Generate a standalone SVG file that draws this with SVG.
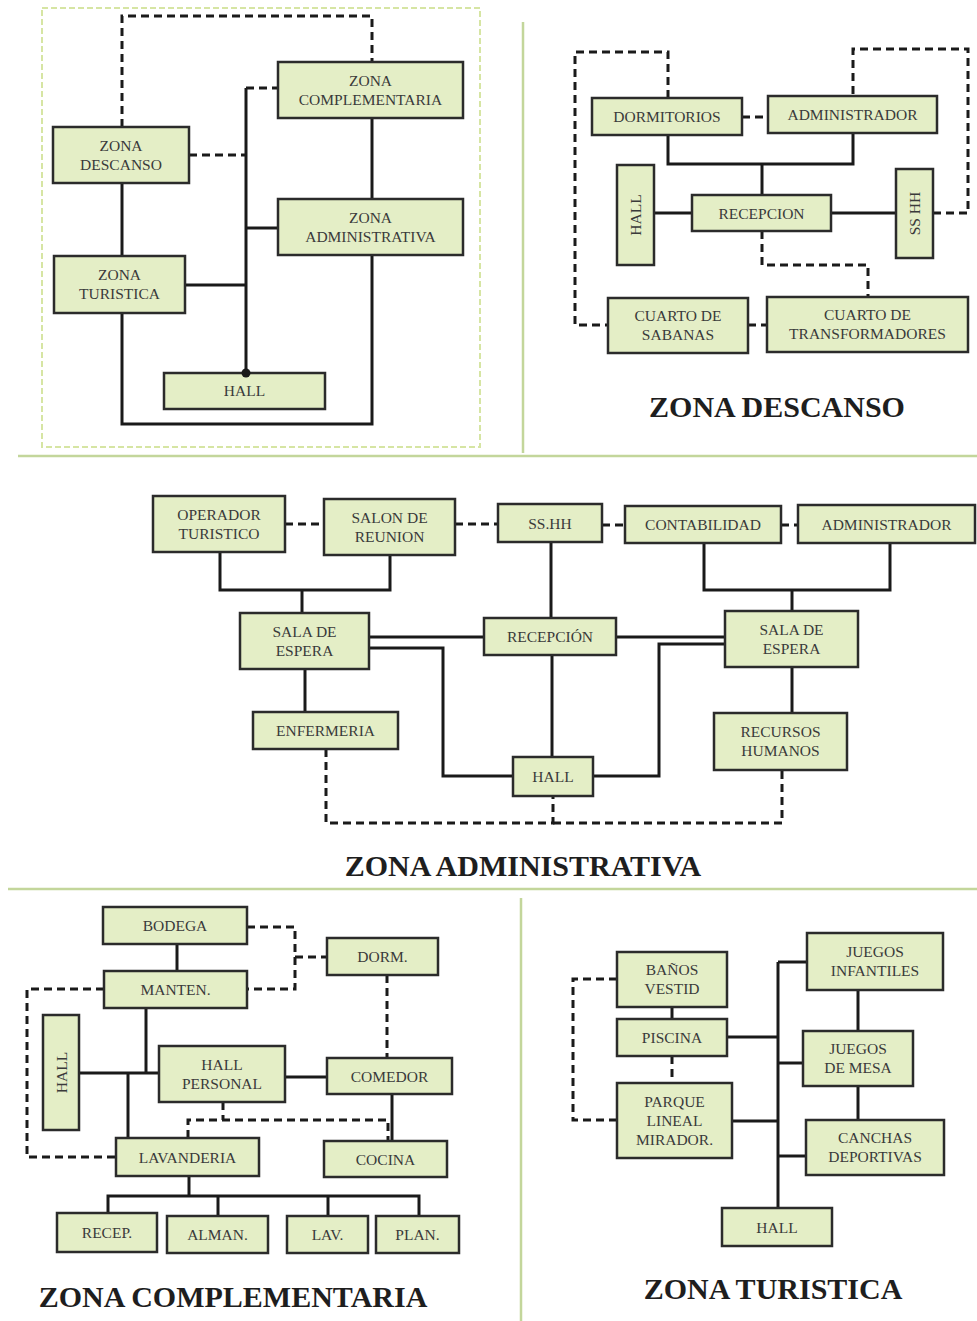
<svg xmlns="http://www.w3.org/2000/svg" width="977" height="1321" viewBox="0 0 977 1321">
<style>
.bx{fill:#e4eec6;stroke:#2b2b2b;stroke-width:2.5}
.t{font-family:"Liberation Serif","Times New Roman",serif;font-size:15.5px;fill:#3a3a3a;text-anchor:middle}
.ttl{font-family:"Liberation Serif","Times New Roman",serif;font-size:30px;font-weight:bold;fill:#1e1e1e;text-anchor:middle}
.s{fill:none;stroke:#1a1a1a;stroke-width:3}
.d{fill:none;stroke:#1a1a1a;stroke-width:3;stroke-dasharray:8 5}
.sep{fill:none;stroke:#c3d69b;stroke-width:2.5}
</style>
<rect width="977" height="1321" fill="#ffffff"/>
<g id="separators">
<rect x="42" y="8" width="438" height="439" fill="none" stroke="#d6e5a3" stroke-width="2" stroke-dasharray="6 3"/>
<line class="sep" x1="523" y1="22" x2="523" y2="453"/>
<line class="sep" x1="18" y1="456" x2="977" y2="456"/>
<line class="sep" x1="8" y1="889" x2="977" y2="889"/>
<line class="sep" x1="521" y1="898" x2="521" y2="1321"/>
</g>
<g id="connectors">
<path class="d" d="M122,127 V16 H372 V62"/>
<path class="d" d="M246,88 H278"/>
<path class="s" d="M246,88 V373"/>
<path class="d" d="M189,155 H246"/>
<path class="s" d="M246,228 H278"/>
<path class="s" d="M185,285 H246"/>
<path class="s" d="M122,183 V256"/>
<path class="s" d="M372,118 V199"/>
<path class="s" d="M122,313 V424 H372 V255"/>
<path class="d" d="M742,117 H768"/>
<path class="s" d="M668,135 V164 H853 V133"/>
<path class="s" d="M762,164 V195"/>
<path class="s" d="M654,213 H692"/>
<path class="s" d="M831,213 H896"/>
<path class="d" d="M762,231 V265 H868 V297"/>
<path class="d" d="M933,213 H968 V49 H853 V96"/>
<path class="d" d="M668,98 V52 H575 V325 H608"/>
<path class="d" d="M748,325 H767"/>
<path class="d" d="M285,524 H324"/>
<path class="d" d="M455,524 H498"/>
<path class="d" d="M602,525 H625"/>
<path class="d" d="M781,525 H798"/>
<path class="s" d="M220,552 V590 H390 V555"/>
<path class="s" d="M302,590 V613"/>
<path class="s" d="M704,543 V590 H890 V543"/>
<path class="s" d="M792,590 V611"/>
<path class="s" d="M551,542 V618"/>
<path class="s" d="M369,637 H484"/>
<path class="s" d="M616,637 H725"/>
<path class="s" d="M369,648 H443 V776 H513"/>
<path class="s" d="M725,644 H659 V776 H593"/>
<path class="s" d="M552,655 V757"/>
<path class="s" d="M305,669 V712"/>
<path class="s" d="M792,667 V713"/>
<path class="d" d="M326,749 V823 H553 V796"/>
<path class="d" d="M553,823 H782 V770"/>
<path class="s" d="M177,944 V971"/>
<path class="d" d="M247,927 H295 V989 H247"/>
<path class="d" d="M295,957 H327"/>
<path class="d" d="M387,975 V1058"/>
<path class="d" d="M104,989 H27 V1157 H116"/>
<path class="s" d="M146,1008 V1073"/>
<path class="s" d="M79,1073 H159"/>
<path class="s" d="M128,1073 V1138"/>
<path class="s" d="M285,1077 H327"/>
<path class="s" d="M392,1094 V1141"/>
<path class="d" d="M223,1102 V1120"/>
<path class="d" d="M188,1138 V1120 H388 V1141"/>
<path class="s" d="M189,1176 V1196"/>
<path class="s" d="M108,1213 V1196 H419 V1216"/>
<path class="s" d="M218,1196 V1216"/>
<path class="s" d="M328,1196 V1216"/>
<path class="s" d="M778,962 V1208"/>
<path class="s" d="M778,962 H807"/>
<path class="s" d="M727,1037 H778"/>
<path class="s" d="M778,1063 H803"/>
<path class="s" d="M732,1121 H778"/>
<path class="s" d="M778,1156 H806"/>
<path class="s" d="M858,990 V1031"/>
<path class="s" d="M858,1086 V1120"/>
<path class="s" d="M672,1007 V1019"/>
<path class="d" d="M672,1056 V1083"/>
<path class="d" d="M617,979 H573 V1120 H617"/>
</g>
<g id="g-zc"><rect class="bx" x="278" y="62" width="185" height="56"/><text class="t" x="370.5" y="85.5">ZONA</text><text class="t" x="370.5" y="104.5">COMPLEMENTARIA</text></g>
<g id="g-zd"><rect class="bx" x="53" y="127" width="136" height="56"/><text class="t" x="121" y="150.5">ZONA</text><text class="t" x="121" y="169.5">DESCANSO</text></g>
<g id="g-za"><rect class="bx" x="278" y="199" width="185" height="56"/><text class="t" x="370.5" y="222.5">ZONA</text><text class="t" x="370.5" y="241.5">ADMINISTRATIVA</text></g>
<g id="g-zt"><rect class="bx" x="54" y="256" width="131" height="57"/><text class="t" x="119.5" y="280">ZONA</text><text class="t" x="119.5" y="299">TURISTICA</text></g>
<g id="g-hall"><rect class="bx" x="164" y="373" width="161" height="36"/><text class="t" x="244.5" y="396">HALL</text><circle cx="246" cy="373" r="4.5" fill="#1a1a1a"/></g>
<g id="d-dorm"><rect class="bx" x="592" y="98" width="150" height="37"/><text class="t" x="667" y="122">DORMITORIOS</text></g>
<g id="d-admin"><rect class="bx" x="768" y="96" width="169" height="37"/><text class="t" x="852.5" y="120">ADMINISTRADOR</text></g>
<g id="d-hall"><rect class="bx" x="617" y="165" width="37" height="100"/><text class="t" transform="translate(635.5,215) rotate(-90)" x="0" y="5.5">HALL</text></g>
<g id="d-recep"><rect class="bx" x="692" y="195" width="139" height="36"/><text class="t" x="761.5" y="218.5">RECEPCION</text></g>
<g id="d-sshh"><rect class="bx" x="896" y="169" width="37" height="89"/><text class="t" transform="translate(914.5,213.5) rotate(-90)" x="0" y="5.5">SS HH</text></g>
<g id="d-sab"><rect class="bx" x="608" y="298" width="140" height="55"/><text class="t" x="678" y="321">CUARTO DE</text><text class="t" x="678" y="340">SABANAS</text></g>
<g id="d-trans"><rect class="bx" x="767" y="297" width="201" height="55"/><text class="t" x="867.5" y="320">CUARTO DE</text><text class="t" x="867.5" y="339">TRANSFORMADORES</text></g>
<text class="ttl" x="777" y="417">ZONA DESCANSO</text>
<g id="a-op"><rect class="bx" x="153" y="496" width="132" height="56"/><text class="t" x="219" y="519.5">OPERADOR</text><text class="t" x="219" y="538.5">TURISTICO</text></g>
<g id="a-salon"><rect class="bx" x="324" y="499" width="131" height="56"/><text class="t" x="389.5" y="522.5">SALON DE</text><text class="t" x="389.5" y="541.5">REUNION</text></g>
<g id="a-sshh"><rect class="bx" x="498" y="504" width="104" height="38"/><text class="t" x="550" y="528.5">SS.HH</text></g>
<g id="a-contab"><rect class="bx" x="625" y="506" width="156" height="37"/><text class="t" x="703" y="530">CONTABILIDAD</text></g>
<g id="a-admin"><rect class="bx" x="798" y="505" width="177" height="38"/><text class="t" x="886.5" y="529.5">ADMINISTRADOR</text></g>
<g id="a-salaL"><rect class="bx" x="240" y="613" width="129" height="56"/><text class="t" x="304.5" y="636.5">SALA DE</text><text class="t" x="304.5" y="655.5">ESPERA</text></g>
<g id="a-recep"><rect class="bx" x="484" y="618" width="132" height="37"/><text class="t" x="550" y="642">RECEPCIÓN</text></g>
<g id="a-salaR"><rect class="bx" x="725" y="611" width="133" height="56"/><text class="t" x="791.5" y="634.5">SALA DE</text><text class="t" x="791.5" y="653.5">ESPERA</text></g>
<g id="a-enf"><rect class="bx" x="253" y="712" width="145" height="37"/><text class="t" x="325.5" y="736">ENFERMERIA</text></g>
<g id="a-hall"><rect class="bx" x="513" y="757" width="80" height="39"/><text class="t" x="553" y="782">HALL</text></g>
<g id="a-rrhh"><rect class="bx" x="714" y="713" width="133" height="57"/><text class="t" x="780.5" y="737">RECURSOS</text><text class="t" x="780.5" y="756">HUMANOS</text></g>
<text class="ttl" x="523" y="876">ZONA ADMINISTRATIVA</text>
<g id="c-bodega"><rect class="bx" x="103" y="907" width="144" height="37"/><text class="t" x="175" y="931">BODEGA</text></g>
<g id="c-dorm"><rect class="bx" x="327" y="938" width="111" height="37"/><text class="t" x="382.5" y="962">DORM.</text></g>
<g id="c-manten"><rect class="bx" x="104" y="971" width="143" height="37"/><text class="t" x="175.5" y="995">MANTEN.</text></g>
<g id="c-hall"><rect class="bx" x="43" y="1015" width="36" height="115"/><text class="t" transform="translate(61,1072.5) rotate(-90)" x="0" y="5.5">HALL</text></g>
<g id="c-hallp"><rect class="bx" x="159" y="1046" width="126" height="56"/><text class="t" x="222" y="1069.5">HALL</text><text class="t" x="222" y="1088.5">PERSONAL</text></g>
<g id="c-comedor"><rect class="bx" x="327" y="1058" width="125" height="36"/><text class="t" x="389.5" y="1081.5">COMEDOR</text></g>
<g id="c-lav"><rect class="bx" x="116" y="1138" width="143" height="38"/><text class="t" x="187.5" y="1162.5">LAVANDERIA</text></g>
<g id="c-cocina"><rect class="bx" x="324" y="1141" width="123" height="36"/><text class="t" x="385.5" y="1164.5">COCINA</text></g>
<g id="c-recep"><rect class="bx" x="57" y="1213" width="100" height="39"/><text class="t" x="107" y="1238">RECEP.</text></g>
<g id="c-alman"><rect class="bx" x="167" y="1216" width="101" height="37"/><text class="t" x="217.5" y="1240">ALMAN.</text></g>
<g id="c-lav2"><rect class="bx" x="287" y="1216" width="81" height="37"/><text class="t" x="327.5" y="1240">LAV.</text></g>
<g id="c-plan"><rect class="bx" x="376" y="1216" width="83" height="37"/><text class="t" x="417.5" y="1240">PLAN.</text></g>
<text class="ttl" x="233" y="1307">ZONA COMPLEMENTARIA</text>
<g id="t-banos"><rect class="bx" x="617" y="952" width="110" height="55"/><text class="t" x="672" y="975">BAÑOS</text><text class="t" x="672" y="994">VESTID</text></g>
<g id="t-piscina"><rect class="bx" x="617" y="1019" width="110" height="37"/><text class="t" x="672" y="1043">PISCINA</text></g>
<g id="t-parque"><rect class="bx" x="617" y="1083" width="115" height="75"/><text class="t" x="674.5" y="1106.5">PARQUE</text><text class="t" x="674.5" y="1125.5">LINEAL</text><text class="t" x="674.5" y="1144.5">MIRADOR.</text></g>
<g id="t-jinf"><rect class="bx" x="807" y="933" width="136" height="57"/><text class="t" x="875" y="957">JUEGOS</text><text class="t" x="875" y="976">INFANTILES</text></g>
<g id="t-jmesa"><rect class="bx" x="803" y="1031" width="110" height="55"/><text class="t" x="858" y="1054">JUEGOS</text><text class="t" x="858" y="1073">DE MESA</text></g>
<g id="t-canchas"><rect class="bx" x="806" y="1120" width="138" height="55"/><text class="t" x="875" y="1143">CANCHAS</text><text class="t" x="875" y="1162">DEPORTIVAS</text></g>
<g id="t-hall"><rect class="bx" x="722" y="1208" width="110" height="38"/><text class="t" x="777" y="1232.5">HALL</text></g>
<text class="ttl" x="773" y="1299">ZONA TURISTICA</text>
</svg>
